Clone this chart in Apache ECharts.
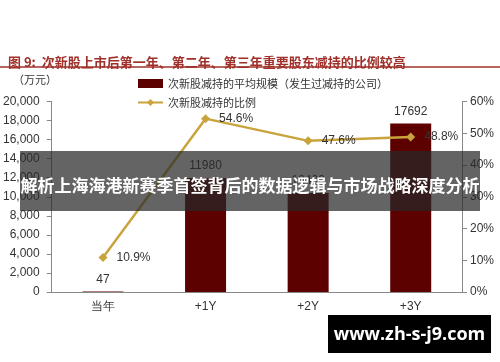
<!DOCTYPE html>
<html><head><meta charset="utf-8">
<script src="https://cdn.jsdelivr.net/npm/echarts@6/dist/echarts.min.js"></script>
<style>html,body{margin:0;padding:0;background:#fff;}#c{width:500px;height:362px;}</style>
</head><body><div id="c"></div>
<script>
const categories = ['当年', '+1Y', '+2Y', '+3Y'];
const avgScale = [47, 11980, 10400, 17692];
const ratio = [10.9, 54.6, 47.6, 48.8];
const leftTicks = [0, 20000, 2000];
const rightTicks = [0, 60, 10];
const titleText = '图 9:  次新股上市后第一年、第二年、第三年重要股东减持的比例较高';
const barName = '次新股减持的平均规模（发生过减持的公司）';
const lineName = '次新股减持的比例';
const bannerText = '解析上海海港新赛季首签背后的数据逻辑与市场战略深度分析';
const watermark = 'www.zh-s-j9.com';

const chart = echarts.init(document.getElementById('c'), null, {renderer: 'canvas'});
const num = 'Liberation Sans, Arial, sans-serif';
const cjk = 'Noto Sans CJK SC, sans-serif';
chart.setOption({
  animation: false,
  backgroundColor: '#fff',
  title: {
    text: titleText, left: 3, top: 51,
    textStyle: {fontSize: 13, fontWeight: 'bold', color: '#a0302a', fontFamily: cjk}
  },
  legend: {
    orient: 'vertical', left: 132, top: 73, itemGap: 8, itemWidth: 25, itemHeight: 9,
    textStyle: {fontSize: 11, color: '#333', fontFamily: cjk},
    data: [{name: barName, icon: 'rect'}, {name: lineName}]
  },
  grid: {left: 51, right: 38, top: 101.5, bottom: 70},
  xAxis: {
    type: 'category', data: categories,
    axisLine: {lineStyle: {color: '#888'}},
    axisTick: {lineStyle: {color: '#888'}, length: 5},
    axisLabel: {color: '#333', fontSize: 12, fontFamily: num, margin: 9}
  },
  yAxis: [{
    type: 'value', min: leftTicks[0], max: leftTicks[1], interval: leftTicks[2],
    axisLine: {show: true, lineStyle: {color: '#888'}},
    axisTick: {show: true, length: 5, lineStyle: {color: '#888'}},
    splitLine: {show: false},
    axisLabel: {color: '#333', fontSize: 12, fontFamily: num, margin: 12,
      formatter: v => v.toLocaleString('en-US')}
  }, {
    type: 'value', min: rightTicks[0], max: rightTicks[1], interval: rightTicks[2],
    axisLine: {show: true, lineStyle: {color: '#888'}},
    axisTick: {show: true, length: 5, lineStyle: {color: '#888'}},
    splitLine: {show: false},
    axisLabel: {color: '#333', fontSize: 12, fontFamily: num, margin: 8, formatter: '{value}%'}
  }],
  series: [{
    name: barName, type: 'bar', data: avgScale, barWidth: 41,
    itemStyle: {color: '#5c0000'},
    label: {show: true, position: 'top', distance: 6, color: '#333', fontSize: 12, fontFamily: num}
  }, {
    name: lineName, type: 'line', yAxisIndex: 1, data: ratio,
    symbol: 'diamond', symbolSize: 9,
    lineStyle: {color: '#c9a43c', width: 2.5},
    itemStyle: {color: '#c9a43c'},
    label: {show: true, position: 'right', distance: 9, color: '#333', fontSize: 12, fontFamily: num,
      formatter: p => p.value.toFixed(1) + '%'}
  }],
  graphic: [
    {type: 'line', shape: {x1: 0, y1: 67, x2: 500, y2: 67}, style: {stroke: '#a0302a', lineWidth: 1.5}},
    {type: 'text', left: 13, top: 74, style: {text: '（万元）', fontSize: 11, fill: '#333', fontFamily: cjk}},
    {type: 'rect', z: 100, shape: {x: 20, y: 151, width: 460, height: 60}, style: {fill: 'rgba(40,40,40,0.72)'}},
    {type: 'text', z: 101, x: 250, y: 186, style: {text: bannerText, fontSize: 17, fontWeight: 'bold',
      fill: '#fff', align: 'center', verticalAlign: 'middle', fontFamily: cjk}},
    {type: 'rect', z: 100, shape: {x: 328, y: 315, width: 163, height: 38}, style: {fill: '#000'}},
    {type: 'text', z: 101, x: 409.5, y: 335, style: {text: watermark, fontSize: 18, fontWeight: 'bold',
      fill: '#fff', align: 'center', verticalAlign: 'middle', fontFamily: 'Open Sans, DejaVu Sans, sans-serif'}}
  ]
});
</script></body></html>
